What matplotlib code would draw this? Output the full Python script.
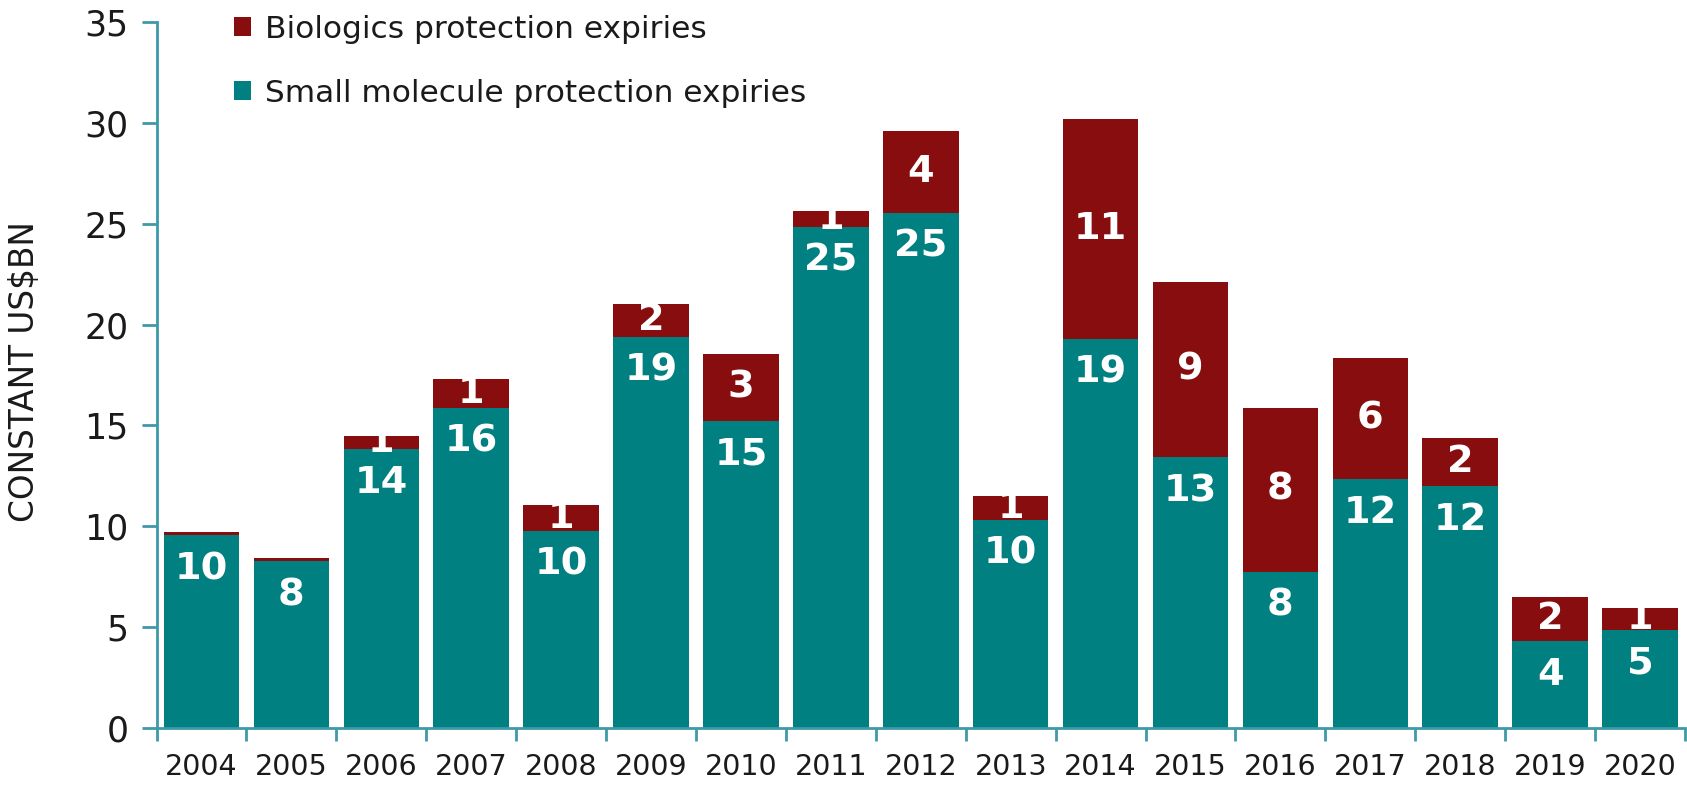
import matplotlib
matplotlib.use("Agg")
import matplotlib.pyplot as plt
import numpy as np

years = ["2004", "2005", "2006", "2007", "2008", "2009", "2010", "2011", "2012",
         "2013", "2014", "2015", "2016", "2017", "2018", "2019", "2020"]
small_molecule = [9.56, 8.27, 13.83, 15.88, 9.77, 19.39, 15.22, 24.85, 25.54,
                  10.31, 19.29, 13.43, 7.73, 12.34, 12.00, 4.30, 4.86]
biologics = [0.15, 0.17, 0.65, 1.42, 1.28, 1.64, 3.33, 0.79, 4.07,
             1.19, 10.92, 8.69, 8.14, 6.01, 2.38, 2.19, 1.08]
small_labels = ["10", "8", "14", "16", "10", "19", "15", "25", "25",
                "10", "19", "13", "8", "12", "12", "4", "5"]
bio_labels = ["", "", "1", "1", "1", "2", "3", "1", "4",
              "1", "11", "9", "8", "6", "2", "2", "1"]
yticks = [0, 5, 10, 15, 20, 25, 30, 35]

TEAL = "#008080"
RED = "#880D0F"
AXIS = "#3F99A9"
TXT = "#1a1a1a"

plt.rcParams['font.family'] = ['DejaVu Sans']

fig = plt.figure(figsize=(16.87, 7.85), dpi=100)
ax = fig.add_axes([0.0928, 0.073, 0.906, 0.8986])

x = np.arange(len(years))
w = 0.84
b1 = ax.bar(x, small_molecule, width=w, color=TEAL, label="Small molecule protection expiries")
b2 = ax.bar(x, biologics, width=w, bottom=small_molecule, color=RED, label="Biologics protection expiries")

for i in range(len(years)):
    if small_labels[i]:
        ax.annotate(small_labels[i], xy=(x[i], small_molecule[i]), xytext=(0, -24.5),
                    textcoords="offset points", ha="center", va="center",
                    color="white", fontsize=27.5, fontweight="bold")
    if bio_labels[i]:
        ax.text(x[i], small_molecule[i] + biologics[i] / 2, bio_labels[i],
                ha="center", va="center", color="white", fontsize=27.5, fontweight="bold")

ax.set_xlim(-0.5, len(years) - 0.5)
ax.set_ylim(0, 35)
ax.set_yticks(yticks)
ax.set_yticklabels([str(v) for v in yticks])
ax.set_xticks(x)
ax.set_xticklabels(years)
ax.set_xticks(np.arange(-0.5, len(years), 1.0), minor=True)

for s in ["top", "right"]:
    ax.spines[s].set_visible(False)
for s in ["left", "bottom"]:
    ax.spines[s].set_color(AXIS)
    ax.spines[s].set_linewidth(2)

ax.tick_params(axis="y", direction="out", length=11, width=2, color=AXIS,
               labelsize=25, labelcolor=TXT, pad=9)
ax.tick_params(axis="x", which="major", length=0, labelsize=20.5, labelcolor=TXT, pad=18.5)
ax.tick_params(axis="x", which="minor", direction="out", length=9, width=2, color=AXIS)

fig.text(0.0148, 0.527, "CONSTANT US$BN", rotation=90, ha="center", va="center",
         fontsize=23.5, color=TXT)

leg = ax.legend(handles=[b2, b1], loc="upper left", bbox_to_anchor=(0.136, 0.987),
                bbox_transform=fig.transFigure, frameon=False, fontsize=22.5,
                handlelength=0.55, handleheight=0.55, handletextpad=0.45,
                labelspacing=1.11, borderaxespad=0, borderpad=0.15)
for t in leg.get_texts():
    t.set_color(TXT)

fig.savefig("out.png", dpi=100)
